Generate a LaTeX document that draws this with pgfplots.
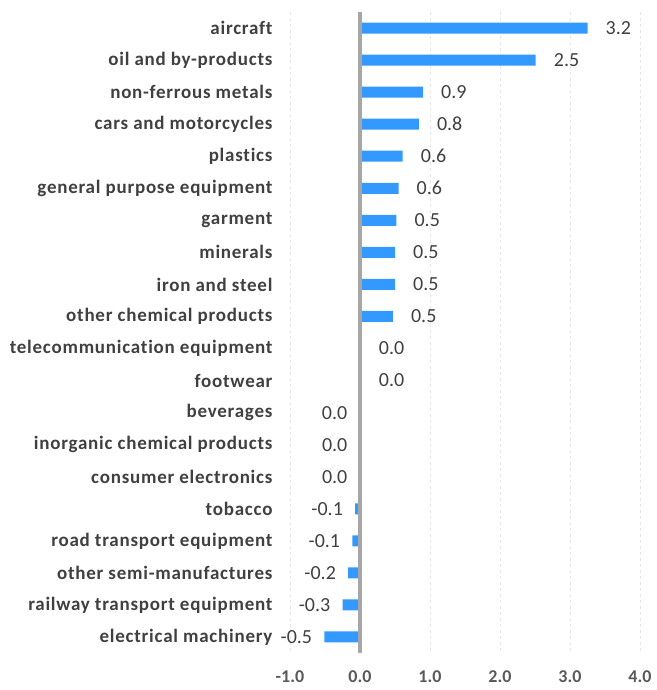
\documentclass[border=0pt]{standalone}
\usepackage{pgfplots}
\pgfplotsset{compat=1.18}
\usepackage{pgfplotstable}
\usepackage{fontspec}
\setmainfont{Carlito}
\newfontfamily\catfont[LetterSpace=4,Ligatures=NoCommon]{Carlito}
\definecolor{barblue}{HTML}{3399FF}
\definecolor{txtgray}{HTML}{404040}
\definecolor{tickgray}{HTML}{595959}
\definecolor{zerogray}{HTML}{A6A6A6}
\definecolor{gridgray}{HTML}{E6E6E6}

% index  value  label
\pgfplotstableread{
y x lab
0 3.25 3.2
1 2.51 2.5
2 0.90 0.9
3 0.84 0.8
4 0.61 0.6
5 0.55 0.6
6 0.52 0.5
7 0.50 0.5
8 0.50 0.5
9 0.47 0.5
10 0.01 0.0
11 0.01 0.0
}\pos
\pgfplotstableread{
y x lab
12 -0.008 0.0
13 -0.006 0.0
14 -0.006 0.0
15 -0.07 -0.1
16 -0.11 -0.1
17 -0.17 -0.2
18 -0.25 -0.3
19 -0.51 -0.5
}\negv

\begin{document}
\begin{tikzpicture}
\useasboundingbox (0,0) rectangle (656pt,690pt);
\begin{axis}[
  at={(290pt,37pt)}, anchor=south west,
  scale only axis, width=350pt, height=641pt,
  xmin=-1, xmax=4, ymin=-0.5, ymax=19.5,
  y dir=reverse,
  axis line style={draw=none},
  major tick length=0pt,
  xtick={-1,0,1,2,3,4},
  xticklabels={-1.0,0.0,1.0,2.0,3.0,4.0},
  xticklabel style={font=\fontsize{18}{20}\selectfont\bfseries, text=tickgray, yshift=-14pt},
  ytick={0,...,19},
  yticklabels={aircraft,oil and by-products,non-ferrous metals,cars and motorcycles,plastics,general purpose equipment,garment,minerals,iron and steel,other chemical products,telecommunication equipment,footwear,beverages,inorganic chemical products,consumer electronics,tobacco,road transport equipment,other semi-manufactures,railway transport equipment,electrical machinery},
  yticklabel style={font=\catfont\fontsize{19}{20}\selectfont\bfseries, text=txtgray, xshift=-14pt},
  xmajorgrids,
  grid style={gridgray, dashed, line width=1pt},
  xbar, bar width=11pt, bar shift=0pt,
  point meta=explicit symbolic,
  nodes near coords={\pgfplotspointmeta},
]
\addplot[fill=barblue, draw=none,
  every node near coord/.append style={anchor=west, inner sep=0pt, xshift=18pt, font=\fontsize{20}{22}\selectfont, text=txtgray}]
  table[x=x, y=y, meta=lab] {\pos};
\addplot[fill=barblue, draw=none,
  every node near coord/.append style={anchor=east, inner sep=0pt, xshift=-12pt, font=\fontsize{20}{22}\selectfont, text=txtgray}]
  table[x=x, y=y, meta=lab] {\negv};
\draw[zerogray, line width=3.5pt] (axis cs:0,-0.5) -- (axis cs:0,19.5);
\end{axis}
\end{tikzpicture}
\end{document}
